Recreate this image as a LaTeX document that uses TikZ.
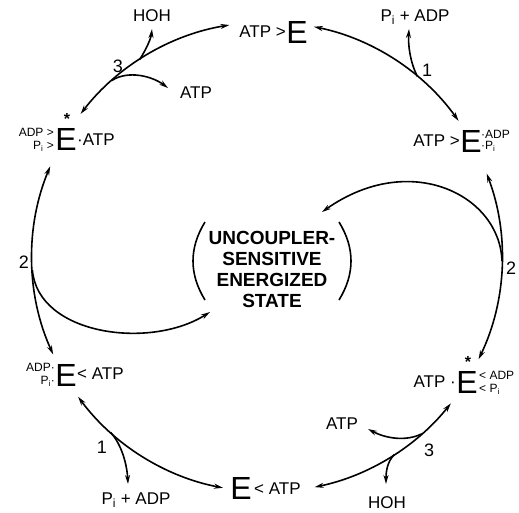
\documentclass[tikz,border=0pt]{standalone}
\usepackage{fontspec}
\setmainfont{Liberation Sans}
\usetikzlibrary{arrows.meta,calc}
\begin{document}
\begin{tikzpicture}[x=1pt,y=-1pt,
  bigE/.style={inner sep=0pt,font=\fontsize{32}{32}\selectfont},
  lab/.style={inner sep=0pt,font=\fontsize{17}{17}\selectfont},
  sm/.style={inner sep=0pt,font=\fontsize{12}{12}\selectfont},
  num/.style={inner sep=0pt,font=\fontsize{18}{18}\selectfont},
  starx/.style={inner sep=0pt,anchor=south,font=\bfseries\fontsize{16}{16}\selectfont},
  conn/.style={line width=1.6pt},
  onetip/.style={conn,-{Stealth[length=9pt,width=5pt]}},
  twotip/.style={conn,{Stealth[length=9pt,width=5pt]}-{Stealth[length=9pt,width=5pt]}},
  ctr/.style={inner sep=0pt,align=center,font=\bfseries\fontsize{19}{21}\selectfont}
]
\useasboundingbox (0,0) rectangle (519,512);

% ---------- species ----------
% top
\node[bigE] (eT) at (297,32) {E};
\node[lab,anchor=east] (eTl) at (286,32) {ATP >};
% top right
\node[bigE] (eTR) at (471,141) {E};
\node[lab,anchor=east] (eTRl) at (460,141) {ATP >};
\node[sm,anchor=west] (eTRa) at (481,134) {·ADP};
\node[sm,anchor=west] (eTRb) at (481,146) {·P\textsubscript{i}};
% bottom right
\node[bigE] (eBR) at (467,382) {E};
\node[starx] (sBR) at (468,368) {*};
\node[lab,anchor=east] (eBRl) at (456,382) {ATP ·};
\node[sm,anchor=west] (eBRa) at (479,375) {< ADP};
\node[sm,anchor=west] (eBRb) at (479,389) {< P\textsubscript{i}};
% bottom
\node[bigE] (eB) at (241,488) {E};
\node[lab,anchor=west] (eBr) at (254,489) {< ATP};
% bottom left
\node[bigE] (eBL) at (66,375) {E};
\node[lab,anchor=west] (eBLr) at (77,374) {< ATP};
\node[sm,anchor=east] (eBLa) at (55,367) {ADP·};
\node[sm,anchor=east] (eBLb) at (55,381) {P\textsubscript{i}·};
% top left
\node[bigE] (eTL) at (66,139) {E};
\node[starx] (sTL) at (67,125) {*};
\node[sm,anchor=east] (eTLa) at (54,132) {ADP >};
\node[sm,anchor=east] (eTLb) at (54,146) {P\textsubscript{i} >};
\node[lab,anchor=west] (eTLr) at (77,140) {·ATP};

% ---------- side labels ----------
\node[lab] (hohTL) at (152,16) {HOH};
\node[lab] (atpTL) at (196,93) {ATP};
\node[num] (n3TL) at (118,66) {3};
\node[lab] (padTR) at (415,17) {P\textsubscript{i} + ADP};
\node[num] (n1TR) at (427,70) {1};
\node[num] (n2L) at (24,262) {2};
\node[num] (n2R) at (511,268) {2};
\node[num] (n3BR) at (429,450) {3};
\node[lab] (atpBR) at (342,424) {ATP};
\node[lab] (hohBR) at (387,503) {HOH};
\node[num] (n1BL) at (102,447) {1};
\node[lab] (padBL) at (136,500) {P\textsubscript{i} + ADP};

% ---------- centre ----------
\node[ctr] (ues) at (272,269) {UNCOUPLER-\\SENSITIVE\\ENERGIZED\\STATE};
\coordinate (pL1) at (205,222);
\coordinate (pL2) at (205,300);
\coordinate (pR1) at (339,222);
\coordinate (pR2) at (339,300);
\draw[conn] (pL1) .. controls (189,248) and (189,274) .. (pL2);
\draw[conn] (pR1) .. controls (355,248) and (355,274) .. (pR2);

% ---------- circle arcs ----------
\coordinate (O) at (267,257);
\coordinate (aTL) at ($(O)+(260.8:235)$);
\coordinate (aTR) at ($(O)+(281.5:235)$);
\coordinate (aR) at ($(O)+(339.2:235)$);
\coordinate (aBR) at ($(O)+(38.5:235)$);
\coordinate (aBL) at ($(O)+(143.5:235)$);
\coordinate (aL) at ($(O)+(202.7:235)$);
\draw[twotip] (aTL) arc[start angle=260.8,end angle=217.5,radius=235];
\draw[twotip] (aTR) arc[start angle=281.5,end angle=324.6,radius=235];
\draw[twotip] (aR) arc[start angle=339.2,end angle=385.8,radius=235];
\draw[twotip] (aBR) arc[start angle=38.5,end angle=78.3,radius=235];
\draw[twotip] (aBL) arc[start angle=143.5,end angle=100.8,radius=235];
\draw[twotip] (aL) arc[start angle=202.7,end angle=155.5,radius=235];

% ---------- branch points ----------
\coordinate (bTLh) at ($(O)+(237.2:235)$);
\coordinate (bTLa) at ($(O)+(228.7:235)$);
\coordinate (bTR) at ($(O)+(309.8:235)$);
\coordinate (bR) at ($(O)+(1:235)$);
\coordinate (bL) at ($(O)+(176.8:235)$);
\coordinate (bBRa) at ($(O)+(48.8:235)$);
\coordinate (bBRh) at ($(O)+(57.2:235)$);
\coordinate (bBL) at ($(O)+(131.7:235)$);
% tips
\coordinate (tTLh) at (152,29);
\coordinate (tTLa) at (168,88);
\coordinate (tTR) at (409,29);
\coordinate (tRc) at (322,212);
\coordinate (tLc) at (210,312);
\coordinate (tBRa) at (368,429);
\coordinate (tBRh) at (386,484);
\coordinate (tBL) at (128,484);

\draw[onetip] (bTLh) .. controls (147,48) and (151,38) .. (tTLh);
\draw[onetip] (bTLa) .. controls (128,70) and (152,76) .. (tTLa);
\draw[onetip] (bTR) .. controls (410,62) and (408,45) .. (tTR);
\draw[onetip] (bR) .. controls (500,195) and (410,150) .. (tRc);
\draw[onetip] (bL) .. controls (38,335) and (150,350) .. (tLc);
\draw[onetip] (bBRa) .. controls (405,442) and (385,438) .. (tBRa);
\draw[onetip] (bBRh) .. controls (387,462) and (386,472) .. (tBRh);
\draw[onetip] (bBL) .. controls (122,445) and (127,465) .. (tBL);
\end{tikzpicture}
\end{document}
